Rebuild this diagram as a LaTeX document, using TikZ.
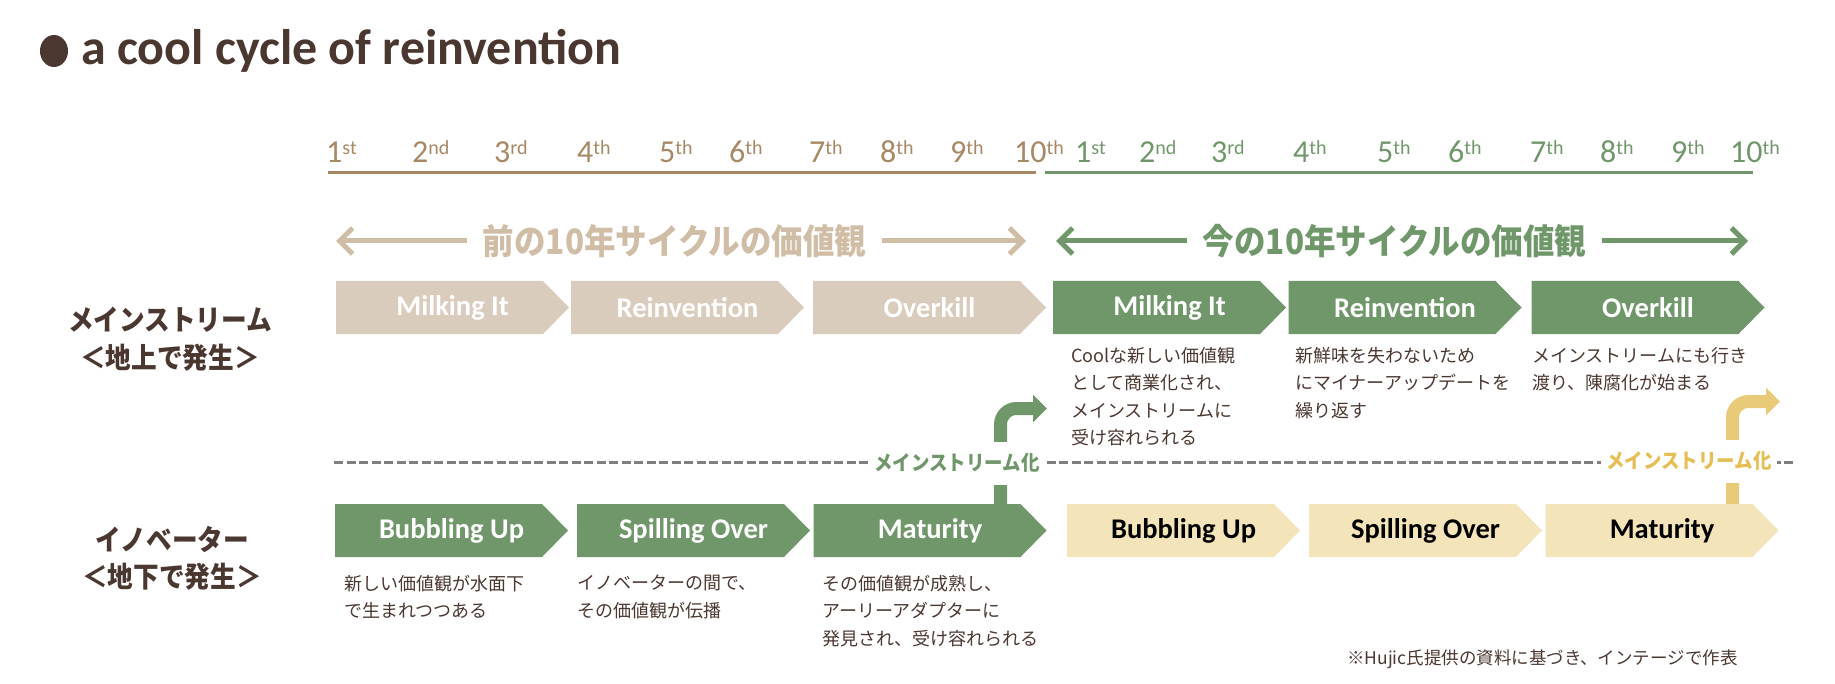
\documentclass[tikz,border=0pt]{standalone}
\usepackage{fontspec}
\setmainfont{Carlito}
\newfontfamily\jpfont{Noto Sans CJK JP}
\newfontfamily\jpcond[FakeStretch=0.9]{Noto Sans CJK JP}
\usetikzlibrary{arrows.meta}

\definecolor{darkbrown}{RGB}{74,55,48}
\definecolor{tanline}{RGB}{166,136,100}
\definecolor{tanarrow}{RGB}{208,189,166}
\definecolor{tanchev}{RGB}{217,204,188}
\definecolor{sage}{RGB}{112,151,106}
\definecolor{cream}{RGB}{243,228,186}
\definecolor{mustard}{RGB}{233,202,120}
\definecolor{mustardtext}{RGB}{230,190,84}
\definecolor{dashgray}{RGB}{127,127,127}

% ordinal with raised suffix
\newcommand{\ordn}[2]{#1\raisebox{8pt}{\fontsize{20}{20}\selectfont #2}}

\tikzset{
  chev/.style={rectangle, fill=white, minimum width=233, minimum height=53, inner sep=0,
    font=\fontsize{28.5}{34}\selectfont\bfseries,
    path picture={\fill[#1] (path picture bounding box.north west)
      -- ([xshift=-26]path picture bounding box.north east)
      -- (path picture bounding box.east)
      -- ([xshift=-26]path picture bounding box.south east)
      -- (path picture bounding box.south west) -- cycle;}},
  yr/.style={anchor=base west, inner sep=0, font=\fontsize{32}{36}\selectfont},
  era/.style={inner ysep=0, inner xsep=16, font=\jpcond\bfseries\fontsize{35}{40}\selectfont},
  arw/.style={line width=5, -{Straight Barb[length=13, width=26]}},
  side/.style={align=center, inner sep=0, text=darkbrown, font=\jpcond\bfseries\fontsize{28.5}{37.5}\selectfont},
  desc/.style={anchor=north west, align=left, inner sep=0, text=darkbrown, font=\jpfont\fontsize{18}{27.5}\selectfont},
  bendarw/.style={line width=13, rounded corners=16, -{Triangle[length=14, width=27]}},
  mainlbl/.style={fill=white, inner xsep=5, inner ysep=0, minimum height=43, font=\jpcond\bfseries\fontsize{20.5}{22}\selectfont}
}

\begin{document}
\begin{tikzpicture}[x=1pt, y=-1pt]
  \useasboundingbox (0,0) rectangle (1835,684);

  % Title
  \fill[darkbrown] (54,51) ellipse [x radius=14, y radius=16];
  \node[anchor=base west, inner sep=0, text=darkbrown, font=\fontsize{50}{58}\selectfont\bfseries] (title) at (81,65) {a cool cycle of reinvention};

  % Decade timelines
  \foreach \x/\n/\s in {326/1/st, 412/2/nd, 494/3/rd, 577/4/th, 659/5/th, 729/6/th, 809/7/th, 880/8/th, 950/9/th, 1014/10/th}
    \node[yr, text=tanline] (old\n) at (\x,163) {\ordn{\n}{\s}};
  \foreach \x/\n/\s in {1075/1/st, 1139/2/nd, 1211/3/rd, 1293/4/th, 1377/5/th, 1448/6/th, 1530/7/th, 1600/8/th, 1671/9/th, 1730/10/th}
    \node[yr, text=sage] (new\n) at (\x,163) {\ordn{\n}{\s}};
  \draw[tanline, line width=3.5] (328,172.5) -- (1036,172.5);
  \draw[sage, line width=3.5] (1045,172.5) -- (1753,172.5);

  % Value spans
  \node[era, text=tanarrow] (prevtxt) at (674.5,241) {前の10年サイクルの価値観};
  \coordinate (prevL) at (336,241);
  \coordinate (prevR) at (1026,241);
  \draw[arw, tanarrow] (prevtxt.west) -- (prevL);
  \draw[arw, tanarrow] (prevtxt.east) -- (prevR);
  \node[era, text=sage] (curtxt) at (1394.5,241) {今の10年サイクルの価値観};
  \coordinate (curL) at (1056,241);
  \coordinate (curR) at (1748,241);
  \draw[arw, sage] (curtxt.west) -- (curL);
  \draw[arw, sage] (curtxt.east) -- (curR);

  % Row labels
  \node[side] (mainrow) at (170,339) {メインストリーム\\＜地上で発生＞};
  \node[side] (innorow) at (172,558.5) {イノベーター\\＜地下で発生＞};

  % Mainstream chevrons
  \node[chev=tanchev, text=white] (omilk) at (452.5,307.5) {Milking It};
  \node[chev=tanchev, text=white] (oreinv) at (687.5,307.5) {Reinvention};
  \node[chev=tanchev, text=white] (oover) at (929.5,307.5) {Overkill};
  \node[chev=sage, text=white] (nmilk) at (1169.5,307.5) {Milking It};
  \node[chev=sage, text=white] (nreinv) at (1405,307.5) {Reinvention};
  \node[chev=sage, text=white] (nover) at (1648,307.5) {Overkill};

  % Innovator chevrons
  \node[chev=sage, text=white] (obub) at (451.5,530.5) {Bubbling Up};
  \node[chev=sage, text=white] (ospill) at (693.5,530.5) {Spilling Over};
  \node[chev=sage, text=white] (omat) at (930,530.5) {Maturity};
  \node[chev=cream, text=black] (nbub) at (1183.5,530.5) {Bubbling Up};
  \node[chev=cream, text=black] (nspill) at (1425.5,530.5) {Spilling Over};
  \node[chev=cream, text=black] (nmat) at (1662,530.5) {Maturity};

  % Notes under the chevrons
  \node[desc] (dmilk) at (1071,347) {Coolな新しい価値観\\として商業化され、\\メインストリームに\\受け容れられる};
  \node[desc] (dreinv) at (1295,347) {新鮮味を失わないため\\にマイナーアップデートを\\繰り返す};
  \node[desc] (dover) at (1532,347) {メインストリームにも行き\\渡り、陳腐化が始まる};
  \node[desc] (dbub) at (344,575) {新しい価値観が水面下\\で生まれつつある};
  \node[desc] (dspill) at (577,575) {イノベーターの間で、\\その価値観が伝播};
  \node[desc] (dmat) at (822,575) {その価値観が成熟し、\\アーリーアダプターに\\発見され、受け容れられる};

  % Ground line
  \coordinate (groundL) at (334,462);
  \coordinate (groundR) at (1794,462);
  \draw[dashgray, line width=3, dash pattern=on 9 off 3.5] (groundL) -- (groundR);

  % Mainstreaming arrows
  \coordinate (gtip) at (1047,408.5);
  \coordinate (ytip) at (1780,401.5);
  \draw[bendarw, sage] ([xshift=70.5]omat.north) |- (gtip);
  \draw[bendarw, mustard] ([xshift=70.5]nmat.north) |- (ytip);
  \node[mainlbl, text=sage] (gmain) at (957,463) {メインストリーム化};
  \node[mainlbl, text=mustardtext] (ymain) at (1689,461) {メインストリーム化};

  % Source note
  \node[anchor=west, inner sep=0, text=darkbrown, font=\jpfont\fontsize{17.5}{20}\selectfont] (source) at (1347,659) {※Hujic氏提供の資料に基づき、インテージで作表};
\end{tikzpicture}
\end{document}
